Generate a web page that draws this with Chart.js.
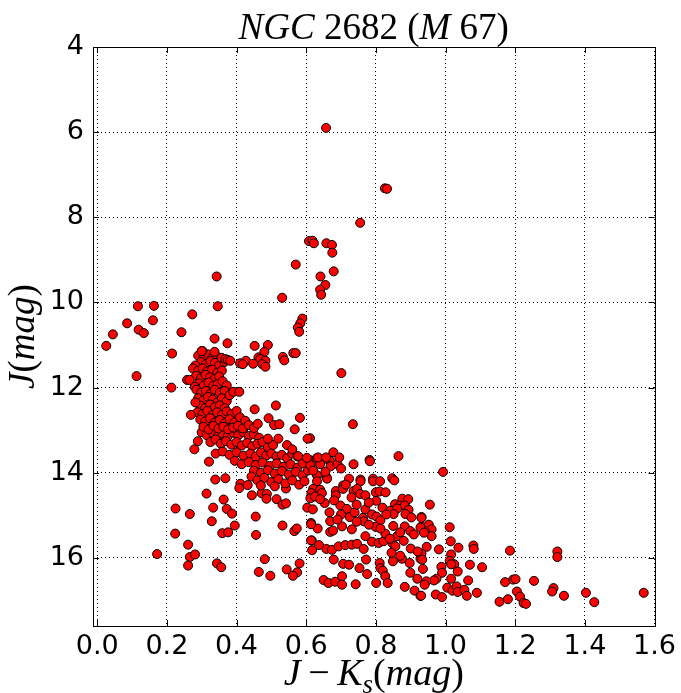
<!DOCTYPE html>
<html><head><meta charset="utf-8">
<script src="https://cdn.jsdelivr.net/npm/chart.js@4/dist/chart.umd.min.js"></script>
<style>html,body{margin:0;padding:0;background:#fff;}</style>
</head><body>
<canvas id="c" width="681" height="693"></canvas>
<script>
// J-Ks colour (mag) and J magnitude pairs
const redGiants = [
[0.657,5.90],[0.826,7.32],[0.832,7.33],[0.755,8.13],[0.608,8.56],[0.618,8.55],[0.622,8.61],[0.658,8.61],[0.674,8.65],[0.675,8.83],[0.570,9.11],[0.679,9.27],[0.641,9.39],[0.655,9.59],[0.640,9.70],[0.643,9.82],[0.531,9.89],[0.589,10.38],[0.583,10.49],[0.576,10.59],[0.580,10.69]
];
const blueStragglers = [
[0.343,9.39],[0.346,10.09],[0.117,10.09],[0.163,10.08],[0.086,10.49],[0.160,10.42],[0.045,10.75],[0.119,10.64],[0.134,10.72],[0.026,11.02],[0.113,11.73],[0.273,10.28],[0.242,10.70],[0.215,11.20],[0.300,11.14],[0.213,12.00],[0.269,12.64],[0.289,13.26],[0.279,13.45],[0.258,11.82],[0.265,11.82]
];
const subgiants = [
[0.337,10.85],[0.374,10.96],[0.452,11.02],[0.490,11.00],[0.480,11.16],[0.463,11.29],[0.468,11.33],[0.483,11.37],[0.427,11.37],[0.410,11.43],[0.418,11.45],[0.448,11.44],[0.474,11.45],[0.483,11.51],[0.533,11.28],[0.537,11.36],[0.563,11.19],[0.570,11.19],[0.701,11.66],[0.391,12.10],[0.408,12.10],[0.302,11.14],[0.337,11.16],[0.357,11.30],[0.368,11.33],[0.375,11.35],[0.382,11.37]
];
const turnoff = [
[0.290,11.25],[0.305,11.28],[0.318,11.22],[0.330,11.30],[0.342,11.26],[0.355,11.32],[0.298,11.40],[0.312,11.45],[0.325,11.38],[0.338,11.42],[0.350,11.48],[0.282,11.48],[0.365,11.40],
[0.275,11.55],[0.290,11.60],[0.303,11.55],[0.316,11.62],[0.330,11.58],[0.345,11.65],[0.358,11.60],[0.284,11.72],[0.298,11.78],[0.311,11.70],[0.324,11.76],[0.337,11.80],[0.350,11.74],[0.292,11.90],[0.306,11.95],[0.320,11.88],[0.333,11.96],[0.346,11.92],[0.360,11.85],[0.372,11.95],[0.280,11.98],
[0.285,12.05],[0.298,12.12],[0.312,12.08],[0.325,12.15],[0.338,12.05],[0.352,12.12],[0.366,12.08],[0.290,12.25],[0.304,12.30],[0.318,12.22],[0.332,12.28],[0.345,12.35],[0.358,12.25],[0.372,12.32],[0.380,12.18],[0.296,12.42],[0.310,12.48],[0.324,12.40],[0.338,12.46],[0.352,12.42],[0.366,12.48],[0.282,12.35],
[0.288,12.58],[0.302,12.62],[0.316,12.55],[0.330,12.65],[0.344,12.58],[0.358,12.64],[0.372,12.56],[0.386,12.62],[0.400,12.55],[0.296,12.75],[0.310,12.80],[0.324,12.72],[0.338,12.82],[0.352,12.76],[0.366,12.84],[0.380,12.74],[0.394,12.82],[0.410,12.70],[0.425,12.78],[0.305,12.92],[0.320,12.98],[0.334,12.90],[0.348,12.96],[0.362,12.92],[0.376,12.98],[0.390,12.94],[0.404,12.90],[0.418,12.96],[0.435,12.88],[0.450,12.95],
[0.452,12.51],[0.513,12.42],[0.582,12.71],[0.492,12.72],[0.508,12.88],[0.523,12.86],[0.461,12.85],[0.567,12.98],[0.490,13.20],[0.520,13.20],[0.545,13.35],[0.560,13.45]
];
const upperMainSeq = [
[0.300,13.05],[0.315,13.12],[0.330,13.05],[0.345,13.15],[0.360,13.08],[0.375,13.14],[0.390,13.06],[0.405,13.12],[0.420,13.05],[0.435,13.14],[0.450,13.10],[0.465,13.18],[0.325,13.28],[0.340,13.22],[0.355,13.32],[0.370,13.26],[0.385,13.34],[0.400,13.28],[0.415,13.36],[0.430,13.30],[0.445,13.38],[0.460,13.32],[0.475,13.28],[0.490,13.40],[0.505,13.35],
[0.340,13.55],[0.360,13.50],[0.380,13.58],[0.400,13.52],[0.420,13.60],[0.440,13.55],[0.455,13.62],[0.470,13.52],[0.485,13.60],[0.500,13.55],[0.515,13.62],[0.530,13.58],[0.545,13.66],[0.560,13.55],[0.575,13.62],[0.395,13.72],[0.415,13.80],[0.435,13.75],[0.455,13.82],[0.475,13.76],[0.495,13.84],[0.515,13.78],[0.535,13.86],[0.555,13.80],[0.575,13.88],[0.590,13.78],[0.450,13.95],[0.470,14.00],[0.490,13.94],[0.510,14.02],[0.530,13.96],[0.550,14.04],[0.570,13.98],[0.590,14.06],[0.605,13.95],
[0.610,13.70],[0.630,13.66],[0.650,13.68],[0.668,13.72],[0.612,13.82],[0.640,13.80],[0.670,13.85],[0.690,13.80],[0.700,13.90],[0.620,13.95],[0.655,13.98],[0.678,13.52],[0.634,13.64],[0.657,13.64],[0.695,13.64],[0.782,13.70],[0.865,13.61],[0.736,13.80],[0.783,13.73],[0.611,13.19],[0.734,12.86],[0.604,13.20],[0.577,13.61],[0.602,13.65],
[0.321,13.74],[0.339,14.16],[0.368,14.13],[0.314,14.49],[0.363,14.63],[0.411,14.26],[0.408,14.36],[0.432,14.29],[0.443,14.09],[0.444,14.53],[0.472,14.48],[0.487,14.50],[0.486,14.61],[0.515,14.62],[0.532,14.75],[0.542,14.72],[0.542,14.37],[0.603,14.82],[0.619,14.86],
[0.460,14.18],[0.480,14.12],[0.500,14.22],[0.520,14.15],[0.540,14.25],[0.560,14.18],[0.580,14.28],[0.595,14.20],[0.510,14.32],[0.470,14.30]
];
const midMainSeq = [
[0.631,14.06],[0.658,14.10],[0.631,14.20],[0.660,14.14],[0.723,14.14],[0.756,14.16],[0.756,14.20],[0.792,14.14],[0.792,14.20],[0.812,14.20],[0.847,14.13],[0.853,14.18],
[0.620,14.38],[0.640,14.40],[0.615,14.48],[0.645,14.48],[0.612,14.60],[0.625,14.56],
[0.685,14.43],[0.685,14.53],[0.706,14.30],[0.706,14.38],[0.714,14.28],[0.736,14.43],[0.746,14.38],[0.730,14.58],[0.755,14.50],[0.770,14.53],
[0.800,14.46],[0.811,14.44],[0.828,14.46],[0.801,14.66],
[0.876,14.61],[0.893,14.62],[0.855,14.74],[0.869,14.77],[0.883,14.77],[0.894,14.87],[0.885,14.97],
[0.653,14.71],[0.667,14.93],[0.698,14.77],[0.717,14.85],[0.725,15.04],[0.739,14.93],[0.763,15.06],[0.770,14.86],[0.789,14.98],[0.802,15.03],[0.813,15.12],[0.819,14.82],[0.841,14.89],[0.861,14.84],[0.851,14.97],
[0.902,15.05],[0.931,15.06],[0.883,15.26],[0.899,15.37],[0.928,15.29],[0.909,15.45],[0.938,15.41],
[0.614,15.18],[0.633,15.31],[0.669,15.14],[0.669,15.39],[0.677,15.36],[0.616,15.59],[0.637,15.70],[0.614,15.21],[0.614,15.59],[0.617,15.82],
[0.703,15.26],[0.731,15.33],[0.765,15.14],[0.799,15.27],[0.827,15.43],[0.813,15.31],
[0.640,14.62],[0.680,14.65],[0.700,14.98],[0.745,14.75],[0.780,14.70],[0.830,14.98],[0.745,15.15],[0.690,15.10],[0.780,15.22],[0.850,15.25],[0.870,15.40],[0.840,15.55],[0.880,15.60],[0.900,15.78],[0.920,15.85],[0.870,15.95],[0.845,15.88]
];
const lowerMainSeq = [
[0.658,15.79],[0.674,15.81],[0.693,15.73],[0.712,15.70],[0.731,15.69],[0.746,15.67],[0.765,15.79],[0.770,15.49],[0.789,15.62],[0.808,15.65],[0.822,15.61],[0.847,15.65],[0.856,15.73],[0.861,15.49],
[0.679,16.04],[0.706,16.14],[0.723,16.16],[0.753,16.24],[0.772,16.04],[0.811,16.12],[0.813,16.24],[0.849,16.08],[0.875,16.02],[0.897,16.12],[0.928,16.02],
[0.775,16.38],[0.820,16.30],[0.827,16.43],[0.834,16.59],[0.899,16.35],[0.919,16.49],
[0.650,16.52],[0.664,16.59],[0.683,16.56],[0.703,16.43],[0.703,16.63],[0.742,16.62],[0.801,16.59],[0.883,16.68],[0.911,16.77],[0.928,16.89],
[0.993,13.98],[0.955,14.75],[0.931,15.04],[0.931,15.26],[0.952,15.22],[0.960,15.33],[0.940,15.37],[0.960,15.49],[1.012,15.28],[1.015,15.61],[0.946,15.74],[0.981,15.80],[1.037,15.76],[1.080,15.71],[1.081,15.79],[1.185,15.83],[0.931,15.90],[0.933,16.04],[0.935,16.26],[1.016,15.92],[1.012,16.07],[1.025,16.15],[1.016,16.15],[0.988,16.21],[0.990,16.35],[1.070,16.16],[1.105,16.22],[1.035,16.32],[1.016,16.49],[0.974,16.49],[0.967,16.53],[0.945,16.55],[0.940,16.63],[1.065,16.53],[1.005,16.70],[1.020,16.77],[1.032,16.67],[1.035,16.80],[1.054,16.75],[1.061,16.89],[1.090,16.82],[0.972,16.86],[0.990,16.92],[0.930,16.89],
[1.171,16.57],[1.194,16.51],[1.201,16.50],[1.254,16.54],[1.205,16.79],[1.214,16.91],[1.224,17.06],[1.231,17.08],[1.155,17.03],[1.179,16.97],
[1.321,15.85],[1.321,15.98],[1.310,16.71],[1.306,16.79],[1.340,16.89],[1.403,16.82],[1.427,17.04],[1.569,16.82]
];
const fieldStars = [
[0.225,14.84],[0.266,14.97],[0.224,15.43],[0.261,15.69],[0.172,15.91],[0.266,15.98],[0.281,15.92],[0.261,16.18],
[0.333,14.82],[0.372,14.85],[0.387,14.96],[0.329,15.14],[0.395,15.24],[0.359,15.42],[0.376,15.40],[0.455,15.03],[0.456,15.46],[0.532,15.24],[0.566,15.37],[0.573,15.31],
[0.344,16.13],[0.356,16.22],[0.481,16.03],[0.464,16.33],[0.497,16.42],[0.544,16.27],[0.581,16.13],[0.574,16.34],[0.562,16.42]
];
const xTicks = [0.0,0.2,0.4,0.6,0.8,1.0,1.2,1.4,1.6];
const yTicks = [4,6,8,10,12,14,16];
const xRange = [-0.012, 1.6];
const yRange = [4, 17.6];
const titleText = [["NGC",1],[" 2682 ",0],["(",0],["M",1],[" 67)",0]];
const yLabelText = [["J",1],["(",0],["mag",1],[")",0]];
const xLabelText = [["J",1],["\u2009\u2212\u2009",0],["K",1],["s",1,1],["(",0],["mag",1],[")",0]];

const groups = [redGiants, blueStragglers, subgiants, turnoff, upperMainSeq, midMainSeq, lowerMainSeq, fieldStars];

function drawParts(ctx, parts, size, cx, cy) {
  const fam = '"Liberation Serif", "DejaVu Serif", serif';
  const fontOf = (p) => (p[1] ? 'italic ' : '') + Math.round(p[2] ? size*0.7 : size) + 'px ' + fam;
  let w = 0;
  for (const p of parts) { ctx.font = fontOf(p); w += ctx.measureText(p[0]).width; }
  let x = cx - w/2;
  ctx.textBaseline = 'alphabetic'; ctx.textAlign = 'left';
  for (const p of parts) {
    ctx.font = fontOf(p);
    ctx.fillText(p[0], x, cy + (p[2] ? size*0.22 : 0));
    x += ctx.measureText(p[0]).width;
  }
}

const frame = {
  id: 'frame',
  afterDraw(chart) {
    const ctx = chart.ctx, a = chart.chartArea;
    const xs = chart.scales.x, ys = chart.scales.y;
    ctx.save();
    ctx.strokeStyle = '#000'; ctx.lineWidth = 1; ctx.setLineDash([]);
    ctx.strokeRect(Math.round(a.left)+0.5, Math.round(a.top)+0.5, Math.round(a.right-a.left), Math.round(a.bottom-a.top));
    ctx.beginPath();
    const L = 6;
    for (const v of xTicks) {
      const px = Math.round(xs.getPixelForValue(v)) + 0.5;
      ctx.moveTo(px, a.bottom); ctx.lineTo(px, a.bottom - L);
      ctx.moveTo(px, a.top); ctx.lineTo(px, a.top + L);
    }
    for (const v of yTicks) {
      const py = Math.round(ys.getPixelForValue(v)) + 0.5;
      ctx.moveTo(a.left, py); ctx.lineTo(a.left + L, py);
      ctx.moveTo(a.right, py); ctx.lineTo(a.right - L, py);
    }
    ctx.stroke();
    ctx.fillStyle = '#000';
    drawParts(ctx, titleText, 37, (a.left + a.right)/2, 39);
    drawParts(ctx, xLabelText, 38, (a.left + a.right)/2, 685);
    ctx.translate(34, (a.top + a.bottom)/2);
    ctx.rotate(-Math.PI/2);
    drawParts(ctx, yLabelText, 37, 0, 0);
    ctx.restore();
  }
};

const tickFont = { family: '"DejaVu Sans", sans-serif', size: 27 };
new Chart(document.getElementById('c'), {
  type: 'scatter',
  data: {
    datasets: groups.map(g => ({
      data: g.map(p => ({ x: p[0], y: p[1] })),
      backgroundColor: '#ff0000',
      borderColor: '#000000',
      borderWidth: 1,
      pointRadius: 4.5,
      pointHoverRadius: 4.5
    }))
  },
  options: {
    responsive: false,
    animation: false,
    devicePixelRatio: 1,
    layout: { padding: { top: 47, right: 26, left: 0, bottom: 0 } },
    plugins: { legend: { display: false }, tooltip: { enabled: false }, title: { display: false } },
    scales: {
      x: {
        type: 'linear', min: xRange[0], max: xRange[1],
        afterBuildTicks: s => { s.ticks = xTicks.map(v => ({ value: v })); },
        afterFit: s => { s.height = 67; },
        ticks: { callback: v => Number(v).toFixed(1), font: tickFont, color: '#000', padding: 5, maxRotation: 0, autoSkip: false },
        grid: { color: '#000', lineWidth: 1, drawTicks: false },
        border: { display: false, dash: [1, 3] }
      },
      y: {
        type: 'linear', reverse: true, min: yRange[0], max: yRange[1],
        afterBuildTicks: s => { s.ticks = yTicks.map(v => ({ value: v })); },
        afterFit: s => { s.width = 93; },
        ticks: { callback: v => String(v), font: tickFont, color: '#000', padding: 9, autoSkip: false },
        grid: { color: '#000', lineWidth: 1, drawTicks: false },
        border: { display: false, dash: [1, 3] }
      }
    }
  },
  plugins: [frame]
});
</script>
</body></html>
